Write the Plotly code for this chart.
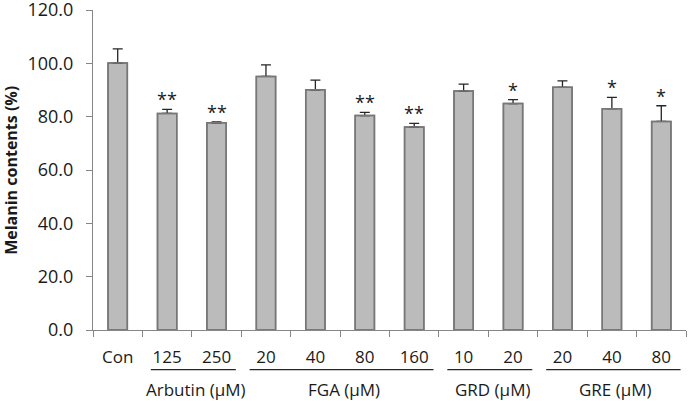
import plotly.graph_objects as go

# ---- data ----
dose_labels = ["Con", "125", "250", "20", "40", "80", "160", "10", "20", "20", "40", "80"]
melanin = [100.1, 81.2, 77.7, 95.1, 90.1, 80.4, 76.1, 89.6, 84.9, 91.0, 83.0, 78.2]
err_up = [5.3, 1.5, 0.3, 4.3, 3.6, 1.2, 1.4, 2.6, 1.5, 2.4, 4.2, 5.9]
stars = ["", "**", "**", "", "", "**", "**", "", "*", "", "*", "*"]
group_names = ["Arbutin (μM)", "FGA (μM)", "GRD (μM)", "GRE (μM)"]
group_start = [1, 3, 7, 9]
group_end = [2, 6, 8, 11]
y_ticks = [0, 20, 40, 60, 80, 100, 120]

x_pos = list(range(len(dose_labels)))
zeros = [0] * len(melanin)

FONT = "Open Sans"
TXT = "#1a1a1a"
AX = "#868686"

fig = go.Figure()
fig.add_trace(go.Bar(
    x=x_pos, y=melanin, width=0.39,
    marker=dict(color="#BBBBBB", line=dict(color="#777777", width=1.5)),
    error_y=dict(type="data", symmetric=False, array=err_up, arrayminus=zeros,
                 color="#262626", thickness=1.3, width=5),
    showlegend=False, hoverinfo="skip",
))
# outline overlay so the zero-length lower cap does not show on the bar top
fig.add_trace(go.Bar(
    x=x_pos, y=melanin, width=0.39,
    marker=dict(color="rgba(0,0,0,0)", line=dict(color="#777777", width=1.5)),
    showlegend=False, hoverinfo="skip",
))

# significance asterisks
for xi, v, e, s in zip(x_pos, melanin, err_up, stars):
    if s:
        fig.add_annotation(x=xi, y=v + e, text=s, showarrow=False,
                           yanchor="bottom", yshift=-4,
                           font=dict(family=FONT, size=18, color=TXT))

# group underlines and labels
for name, a, b in zip(group_names, group_start, group_end):
    fig.add_shape(type="line", xref="x", yref="paper",
                  x0=a - 0.5 + 0.17, x1=b + 0.5 - 0.11, y0=-0.124, y1=-0.124,
                  line=dict(color="#262626", width=1.2))
    fig.add_annotation(x=(a + b) / 2, xref="x", y=-0.187, yref="paper",
                       text=name, showarrow=False, yanchor="middle", xshift=4,
                       font=dict(family=FONT, size=17, color=TXT))

# y-axis title
fig.add_annotation(text="<b>Melanin contents (%)</b>", xref="paper", yref="paper",
                   x=-0.1385, y=0.5, textangle=-90, showarrow=False,
                   xanchor="center", yanchor="middle",
                   font=dict(family=FONT, size=16, color=TXT))

fig.update_layout(
    width=688, height=401, autosize=False,
    margin=dict(l=93, r=2, t=10, b=71),
    paper_bgcolor="white", plot_bgcolor="white",
    barmode="overlay",
    font=dict(family=FONT, size=17, color=TXT),
    xaxis=dict(
        range=[-0.5, len(dose_labels) - 0.5],
        tickmode="array", tickvals=x_pos, ticktext=dose_labels,
        ticks="", showline=True, linecolor=AX, linewidth=1,
        showgrid=False, zeroline=False, ticklabelstandoff=12,
        ticklabeloverflow="allow", automargin=False,
        tickfont=dict(family=FONT, size=17, color=TXT),
        minor=dict(tick0=-0.5, dtick=1, ticks="outside", ticklen=6,
                   tickcolor=AX, tickwidth=1, showgrid=False),
    ),
    yaxis=dict(
        range=[0, 120], tickmode="array", tickvals=y_ticks,
        tickformat=".1f", ticks="outside", ticklen=6, tickcolor=AX,
        showline=True, linecolor=AX, linewidth=1,
        showgrid=False, zeroline=False, ticklabelstandoff=9,
        ticklabeloverflow="allow", automargin=False,
        tickfont=dict(family=FONT, size=18, color=TXT),
    ),
)

fig.write_html("out.html", config={"displayModeBar": False},
               post_script="document.body.style.margin='0px';")
